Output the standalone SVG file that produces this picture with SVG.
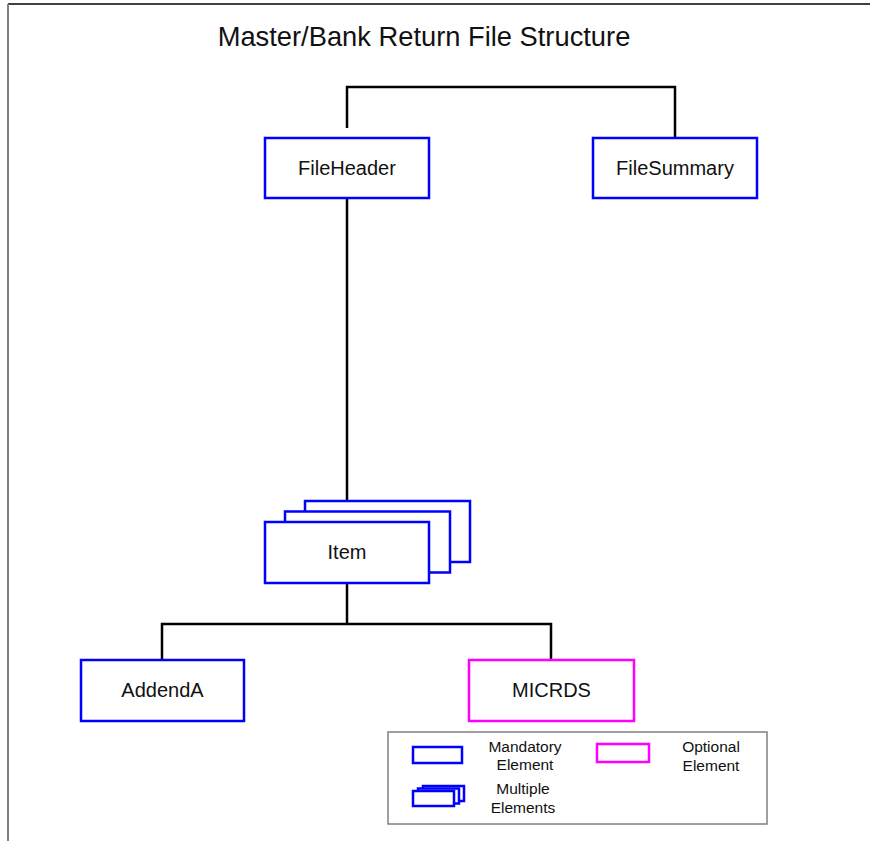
<svg xmlns="http://www.w3.org/2000/svg" width="870" height="841" viewBox="0 0 870 841">
<style>
.box{fill:#fff;stroke:#0000ff;stroke-width:2.5}
.opt{fill:#fff;stroke:#ff00ff;stroke-width:2.5}
.lbl{font-family:"Liberation Sans",Arial,sans-serif;font-size:20px;fill:#111;text-anchor:middle}
.leg{font-family:"Liberation Sans",Arial,sans-serif;font-size:15.5px;fill:#111;text-anchor:middle}
.conn{fill:none;stroke:#000;stroke-width:2.5}
</style>
<rect x="0" y="0" width="870" height="841" fill="#fff"/>
<g id="frame">
<line x1="8" y1="4" x2="870" y2="4" stroke="#000" stroke-width="1.5"/>
<line x1="8" y1="4" x2="8" y2="841" stroke="#808080" stroke-width="2"/>
</g>
<text id="title" x="424" y="46" font-family="'Liberation Sans',Arial,sans-serif" font-size="27.3" fill="#111" text-anchor="middle">Master/Bank Return File Structure</text>
<g id="connectors">
<polyline class="conn" points="347,128 347,87 675,87 675,138"/>
<line class="conn" x1="347" y1="198" x2="347" y2="501"/>
<line class="conn" x1="347" y1="583" x2="347" y2="624"/>
<polyline class="conn" points="162,660 162,624 551,624 551,660"/>
</g>
<g id="FileHeader">
<rect class="box" x="265" y="138" width="164" height="60"/>
<text class="lbl" x="347" y="175">FileHeader</text>
</g>
<g id="FileSummary">
<rect class="box" x="593" y="138" width="164" height="60"/>
<text class="lbl" x="675" y="175">FileSummary</text>
</g>
<g id="Item">
<rect class="box" x="305" y="501" width="165" height="61"/>
<rect class="box" x="285" y="511.5" width="165" height="61"/>
<rect class="box" x="265" y="522" width="164" height="61"/>
<text class="lbl" x="347" y="559">Item</text>
</g>
<g id="AddendA">
<rect class="box" x="81" y="660" width="163" height="61"/>
<text class="lbl" x="162.5" y="697">AddendA</text>
</g>
<g id="MICRDS">
<rect class="opt" x="469" y="660" width="165" height="61"/>
<text class="lbl" x="551.5" y="697">MICRDS</text>
</g>
<g id="legend">
<rect x="388" y="732" width="379" height="92" fill="#fff" stroke="#808080" stroke-width="1.5"/>
<rect class="box" x="413" y="747" width="49" height="16" stroke-width="2"/>
<text class="leg" x="525" y="752">Mandatory</text>
<text class="leg" x="525" y="770">Element</text>
<rect class="box" x="423" y="786" width="41" height="15" stroke-width="2"/>
<rect class="box" x="418" y="788.5" width="41" height="15" stroke-width="2"/>
<rect class="box" x="413" y="791" width="41" height="15" stroke-width="2"/>
<text class="leg" x="523" y="794">Multiple</text>
<text class="leg" x="523" y="813">Elements</text>
<rect class="opt" x="597" y="744" width="52" height="18" stroke-width="2"/>
<text class="leg" x="711" y="752">Optional</text>
<text class="leg" x="711" y="771">Element</text>
</g>
</svg>
